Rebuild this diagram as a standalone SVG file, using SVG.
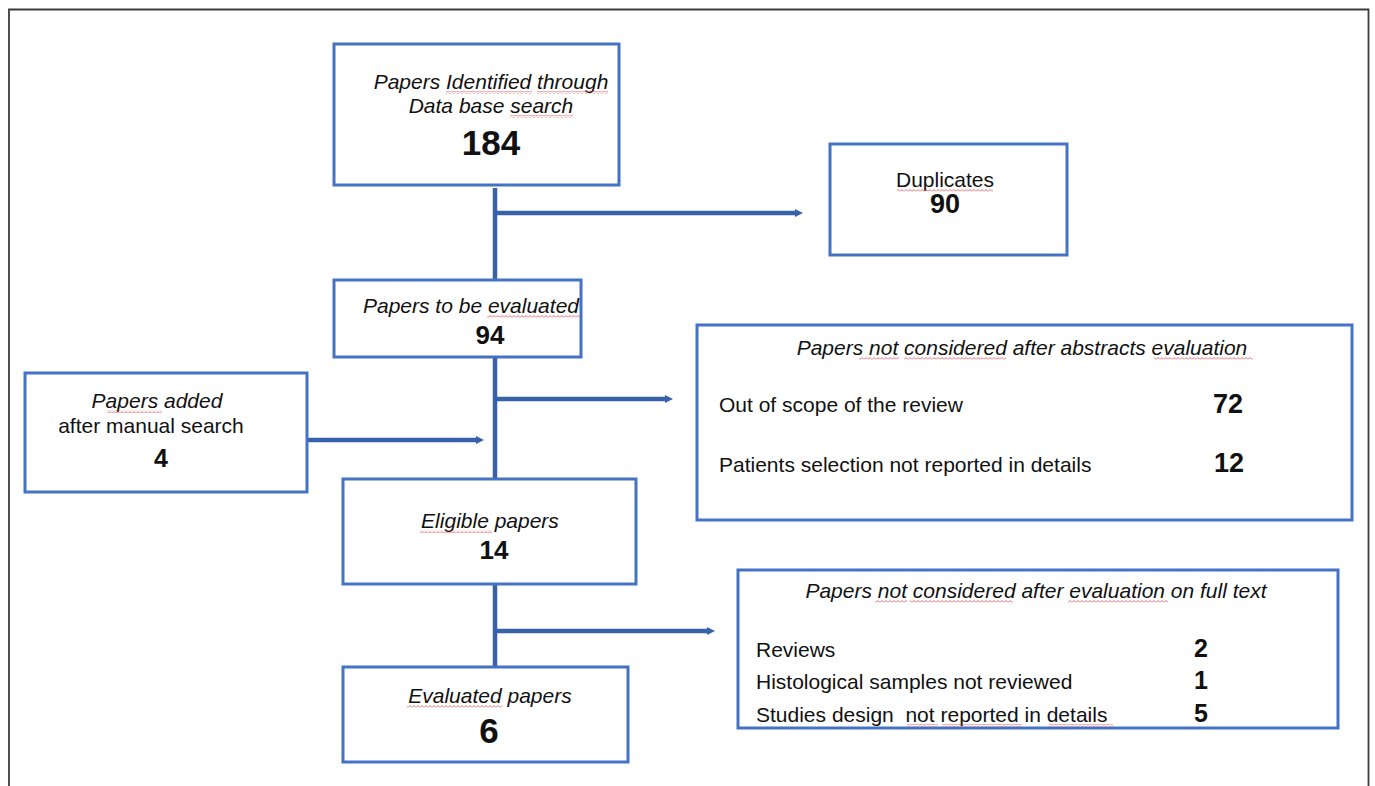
<svg xmlns="http://www.w3.org/2000/svg" width="1375" height="786" viewBox="0 0 1375 786">
<style>
.box{fill:#fff;stroke:#4472C4;stroke-width:3}
.con{stroke:#3762AA;stroke-width:4.5;fill:none}
.t{font-family:"Liberation Sans",Arial,sans-serif;font-size:21px;fill:#111}
.i{font-style:italic}
.c{text-anchor:middle}
.n{font-family:"Liberation Sans",Arial,sans-serif;font-weight:bold;fill:#111}
.sq{fill:url(#sq)}
</style>
<defs>
<pattern id="sq" width="4" height="3" patternUnits="userSpaceOnUse"><path d="M0 2.5 L2 0.5 L4 2.5" stroke="#e04545" stroke-width="0.8" fill="none"/></pattern>
<marker id="ah" markerUnits="userSpaceOnUse" markerWidth="9" markerHeight="10" refX="2" refY="5" orient="auto"><path d="M0,1 L8,5 L0,9 z" fill="#3762AA"/></marker>
</defs>
<rect width="1375" height="786" fill="#fff"/>
<path d="M9,786 V9.5 H1368.5 V786" fill="none" stroke="#3c3c3c" stroke-width="1.8"/>

<g id="connectors">
<line class="con" x1="495" y1="188" x2="495" y2="280"/>
<line class="con" x1="495" y1="213" x2="797" y2="213" marker-end="url(#ah)"/>
<line class="con" x1="495" y1="357" x2="495" y2="479"/>
<line class="con" x1="495" y1="399" x2="667" y2="399" marker-end="url(#ah)"/>
<line class="con" x1="308" y1="440" x2="478" y2="440" marker-end="url(#ah)"/>
<line class="con" x1="495" y1="584" x2="495" y2="667"/>
<line class="con" x1="495" y1="631" x2="709" y2="631" marker-end="url(#ah)"/>
</g>

<g id="identified">
<rect class="box" x="334" y="44" width="285" height="141"/>
<text class="t i c" x="491" y="89">Papers Identified through</text>
<text class="t i c" x="491" y="113">Data base search</text>
<text class="n c" x="491" y="155" font-size="35">184</text>
<rect class="sq" x="446" y="91" width="86" height="3"/>
<rect class="sq" x="537" y="91" width="71" height="3"/>
<rect class="sq" x="510" y="115" width="63" height="3"/>
</g>

<g id="duplicates">
<rect class="box" x="830" y="144" width="237" height="111"/>
<text class="t c" x="945" y="187">Duplicates</text>
<text class="n c" x="945" y="213" font-size="27">90</text>
<rect class="sq" x="897" y="189" width="96" height="3"/>
</g>

<g id="to-be-evaluated">
<rect class="box" x="334" y="280" width="247" height="77"/>
<text class="t i c" x="471" y="313">Papers to be evaluated</text>
<text class="n c" x="490" y="344" font-size="26">94</text>
<rect class="sq" x="487" y="315" width="93" height="3"/>
</g>

<g id="abstracts-excluded">
<rect class="box" x="697" y="325" width="655" height="195"/>
<text class="t i c" x="1022" y="355">Papers not considered after abstracts evaluation</text>
<text class="t" x="719" y="412">Out of scope of the review</text>
<text class="n c" x="1228" y="413" font-size="27">72</text>
<text class="t" x="719" y="472">Patients selection not reported in details</text>
<text class="n c" x="1229" y="472" font-size="27">12</text>
<rect class="sq" x="859" y="357" width="40" height="3"/>
<rect class="sq" x="904" y="357" width="102" height="3"/>
<rect class="sq" x="1154" y="357" width="99" height="3"/>
</g>

<g id="manual-search">
<rect class="box" x="25" y="373" width="282" height="119"/>
<text class="t i c" x="157" y="408">Papers added</text>
<text class="t c" x="151" y="433">after manual search</text>
<text class="n c" x="161" y="467" font-size="25">4</text>
<rect class="sq" x="107" y="410" width="55" height="3"/>
</g>

<g id="eligible">
<rect class="box" x="343" y="479" width="293" height="105"/>
<text class="t i c" x="490" y="528">Eligible papers</text>
<text class="n c" x="494" y="559" font-size="26">14</text>
<rect class="sq" x="420" y="530" width="72" height="3"/>
</g>

<g id="fulltext-excluded">
<rect class="box" x="738" y="570" width="600" height="158"/>
<text class="t i c" x="1036" y="598">Papers not considered after evaluation on full text</text>
<text class="t" x="756" y="657">Reviews</text>
<text class="n c" x="1201" y="657" font-size="25">2</text>
<text class="t" x="756" y="689">Histological samples not reviewed</text>
<text class="n c" x="1201" y="689" font-size="25">1</text>
<text class="t" x="756" y="722" xml:space="preserve">Studies design  not reported in details</text>
<text class="n c" x="1201" y="722" font-size="25">5</text>
<rect class="sq" x="875" y="600" width="32" height="3"/>
<rect class="sq" x="910" y="600" width="103" height="3"/>
<rect class="sq" x="1068" y="600" width="100" height="3"/>
<rect class="sq" x="907" y="724" width="31" height="3"/>
<rect class="sq" x="942" y="724" width="80" height="3"/>
<rect class="sq" x="1049" y="724" width="64" height="3"/>
</g>

<g id="evaluated">
<rect class="box" x="343" y="667" width="285" height="95"/>
<text class="t i c" x="490" y="703">Evaluated papers</text>
<text class="n c" x="489" y="743" font-size="35">6</text>
<rect class="sq" x="407" y="705" width="95" height="3"/>
</g>
</svg>
